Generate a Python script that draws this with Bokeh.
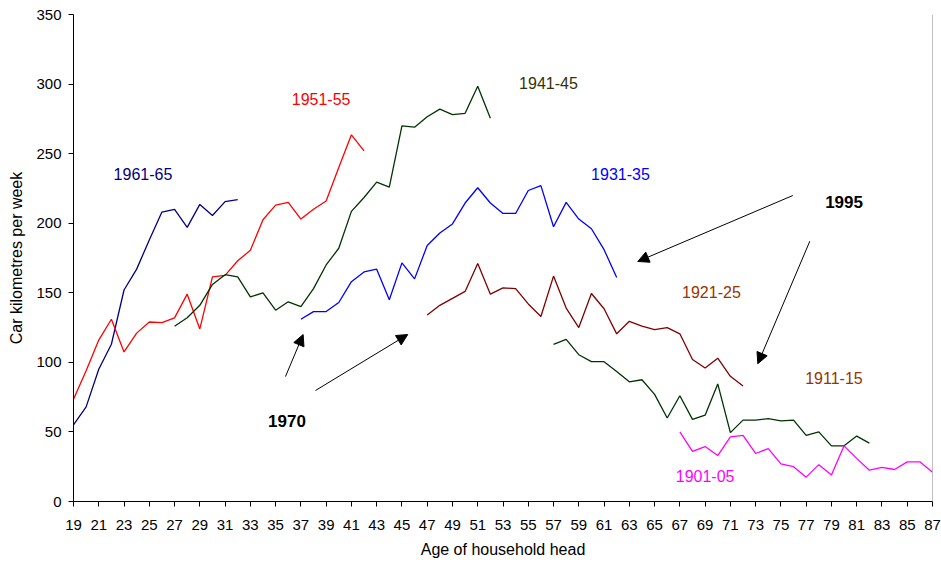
from bokeh.plotting import figure
from bokeh.models import Range1d, FixedTicker, Arrow, NormalHead, ColumnDataSource, Span
from bokeh.core.properties import value
from bokeh.embed import file_html
from bokeh.resources import INLINE

# ---------------- data ----------------
ages_1961 = list(range(19, 33))
km_1961 = [55, 68, 95, 113, 152, 167, 188, 208, 210, 197, 213.5, 205.5, 215.5, 217]

ages_1951 = list(range(19, 43))
km_1951 = [73.5, 94, 116, 131, 107.5, 121, 129, 128.5, 132, 149, 124, 161.5, 162.5, 173,
           180.5, 202.5, 213, 215, 203, 210, 216, 240, 263.5, 252]

ages_1941 = list(range(27, 53))
km_1941 = [126, 132, 141, 156, 163, 161.5, 147, 150, 137.5, 143.5, 140, 153, 170, 182,
           208.5, 218.5, 229.5, 226, 270, 269, 276.5, 282, 278, 279, 298.5, 275.5]

ages_1931 = list(range(37, 63))
km_1931 = [131, 136.5, 136.5, 143, 158, 165, 167, 145, 171.5, 160, 184, 193, 199.5, 214.5,
           225.5, 214.5, 207, 207, 223.5, 227, 197.5, 215, 203, 196, 181, 161]

ages_1921 = list(range(47, 73))
km_1921 = [134, 141, 146, 151, 171, 149, 153.5, 153, 142, 133, 162, 139, 125, 149.5,
           138.5, 120.5, 129.5, 126, 123.5, 125, 120.5, 102, 96, 103, 90, 83]

ages_1911 = list(range(57, 83))
km_1911 = [113, 116.5, 105.5, 100.5, 100.5, 93.5, 86, 87.5, 77, 60, 76, 59, 62, 84.5,
           49.5, 58.5, 58.5, 59.5, 58, 58.5, 47.5, 50, 40, 40, 47, 42]

ages_1901 = list(range(67, 88))
km_1901 = [50, 36, 39.5, 33, 46.5, 47.5, 34.5, 38, 27, 25, 17.5, 26.5, 19, 40, 31,
           22.5, 24.5, 23, 28.5, 28.5, 21]

series = [
    (ages_1961, km_1961, "#000080"),
    (ages_1951, km_1951, "#FF0000"),
    (ages_1941, km_1941, "#003300"),
    (ages_1931, km_1931, "#0000FF"),
    (ages_1921, km_1921, "#800000"),
    (ages_1911, km_1911, "#003300"),
    (ages_1901, km_1901, "#FF00FF"),
]

x_ticks = [19, 21, 23, 25, 27, 29, 31, 33, 35, 37, 39, 41, 43, 45, 47, 49, 51, 53,
           55, 57, 59, 61, 63, 65, 67, 69, 71, 73, 75, 77, 79, 81, 83, 85, 87]
y_ticks = [0, 50, 100, 150, 200, 250, 300, 350]

# cohort labels
label_text = ["1961-65", "1951-55", "1941-45", "1931-35", "1921-25", "1911-15", "1901-05"]
label_x = [24.5, 38.6, 56.6, 62.3, 69.5, 79.2, 69.0]
label_y = [235.5, 289.5, 300.5, 235.5, 150.5, 89.0, 18.0]
label_color = ["#000080", "#FF0000", "#333300", "#0000FF", "#993300", "#993300", "#FF00FF"]

# year labels
year_text = ["1970", "1995"]
year_x = [35.9, 80.0]
year_y = [58.0, 215.5]

# arrows
arrow_x0 = [35.78, 38.16, 75.94, 77.29]
arrow_y0 = [89.8, 79.8, 219.9, 187.1]
arrow_x1 = [37.18, 45.46, 63.67, 73.17]
arrow_y1 = [120.0, 120.0, 172.5, 99.0]

FONT = "Liberation Sans"

p = figure(width=941, height=562, x_range=Range1d(19, 87), y_range=Range1d(0, 350),
           output_backend="svg", toolbar_location=None,
           min_border_left=73, min_border_right=9, min_border_top=14, min_border_bottom=61)
p.outline_line_color = None
p.xgrid.visible = False
p.ygrid.visible = False
p.background_fill_color = "white"
p.border_fill_color = "white"

for xs, ys, c in series:
    p.line(xs, ys, line_color=c, line_width=1.3)

p.add_layout(Span(location=87, dimension="height", line_color="#808080", line_width=1))

p.text(x=label_x, y=label_y, text=label_text, text_color=label_color,
       text_font=value(FONT), text_font_size="16px",
       text_align="center", text_baseline="middle")
p.text(x=year_x, y=year_y, text=year_text, text_color="black",
       text_font=value(FONT), text_font_size="17px", text_font_style="bold",
       text_align="center", text_baseline="middle")

asrc = ColumnDataSource(dict(x0=arrow_x0, y0=arrow_y0, x1=arrow_x1, y1=arrow_y1))
p.add_layout(Arrow(end=NormalHead(size=11, fill_color="black", line_color="black"),
                   x_start="x0", y_start="y0", x_end="x1", y_end="y1",
                   source=asrc, line_color="black", line_width=1))

for ax in (p.xaxis[0], p.yaxis[0]):
    ax.axis_line_color = "black"
    ax.major_tick_line_color = "black"
    ax.major_tick_out = 5
    ax.major_tick_in = 0
    ax.minor_tick_line_color = None
    ax.major_label_text_font = FONT
    ax.major_label_text_font_size = "15px"
    ax.major_label_text_color = "black"
    ax.axis_label_text_font = FONT
    ax.axis_label_text_font_size = "16px"
    ax.axis_label_text_font_style = "normal"
    ax.axis_label_text_color = "black"

p.xaxis[0].ticker = FixedTicker(ticks=x_ticks)
p.yaxis[0].ticker = FixedTicker(ticks=y_ticks)
p.xaxis[0].axis_label = "Age of household head"
p.yaxis[0].axis_label = "Car kilometres per week"
p.xaxis[0].major_label_standoff = 13
p.yaxis[0].major_label_standoff = 7
p.xaxis[0].axis_label_standoff = 8
p.yaxis[0].axis_label_standoff = 8

open("out.html", "w").write(file_html(p, INLINE))
